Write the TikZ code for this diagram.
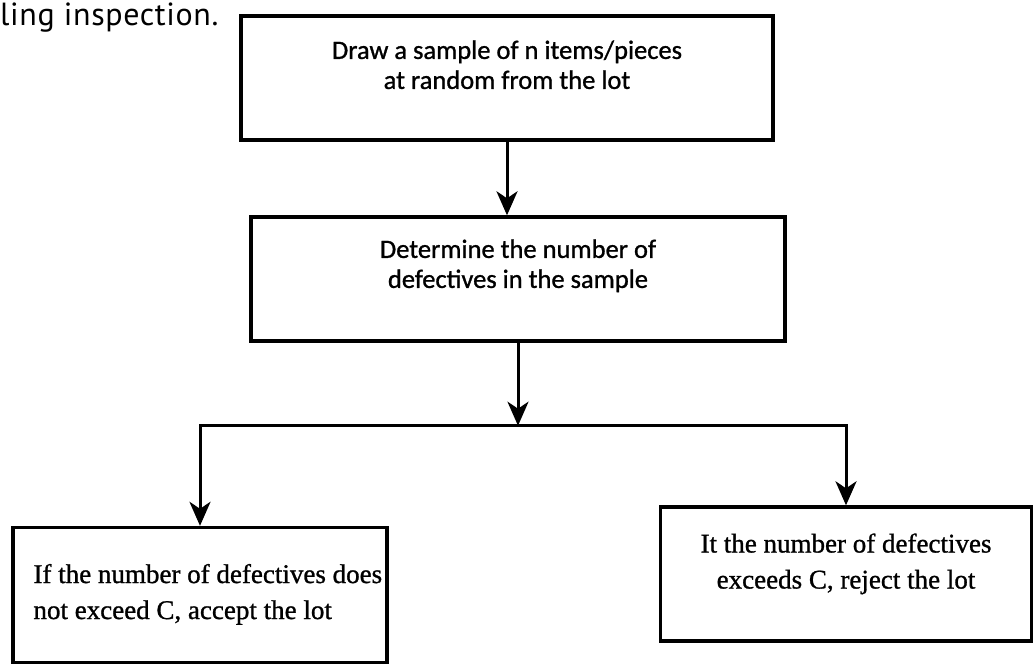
\documentclass[tikz,border=0pt]{standalone}
\usepackage{fontspec}
\setmainfont[FakeBold=1]{Liberation Serif}
\newfontfamily\humsans[FakeBold=1]{Carlito}
\newfontfamily\headfont[LetterSpace=2]{PT Sans}
\usepackage{tikz}
\usetikzlibrary{
  arrows.meta,
  positioning
}
\tikzset{
  % Flow box: outline only, size given per node
  flowbox/.style={
    rectangle, draw=black, line width=3.4pt,
    inner sep=0pt
  },
  % Text in the upper boxes
  uptxt/.style={
    font=\humsans\fontsize{26.5}{30}\selectfont,
    align=center, inner sep=0pt
  },
  % Text in the lower boxes
  lowtxt/.style={
    font=\fontsize{27}{36}\selectfont,
    align=#1, inner sep=0pt
  },
  % Arrow
  arr/.style={
    -{Stealth[length=24pt,width=21pt,inset=7pt]},
    line width=3pt, line join=miter
  }
}
\begin{document}
\begin{tikzpicture}[x=1pt,y=-1pt]

  \useasboundingbox[fill=white] (0,0) rectangle (1035,666);

  % ---- page text at the top ----
  \node[font=\headfont\fontsize{32}{36}\selectfont, inner sep=0pt,
        anchor=base west] (head) at (0,26) {ling inspection.};

  % ---- ROW 1: sample ----
  \node[flowbox, minimum width=532pt, minimum height=124pt] (draw) at (507,78) {};
  \node[uptxt, below=26pt of draw.north] (drawtxt)
    {Draw a sample of n items/pieces\\at random from the lot};

  % ---- ROW 2: count defectives ----
  \node[flowbox, minimum width=534pt, minimum height=124pt] (det) at (518,279) {};
  \node[uptxt, below=24pt of det.north] (dettxt)
    {Determine the number of\\defectives in the sample};

  % ---- ROW 3: decision ----
  \node[flowbox, minimum width=374pt, minimum height=135pt] (low) at (200,595) {};
  \node[lowtxt=left, below right=38pt and 22pt of low.north west] (lowtext)
    {If the number of defectives does\\not exceed C, accept the lot};

  \node[flowbox, minimum width=371pt, minimum height=134pt] (rej) at (846,574) {};
  \node[lowtxt=center, below=28pt of rej.north] (rejtext)
    {It the number of defectives\\exceeds C, reject the lot};

  % ---- ARROWS ----
  \coordinate[below=83pt of det.south] (split);
  \draw[arr] (draw.south) -- (draw.south |- det.north);
  \draw[arr] (det.south) -- (split);
  \draw[arr] (split) -| (low.north);
  \draw[arr] (split) -| (rej.north);

\end{tikzpicture}
\end{document}
